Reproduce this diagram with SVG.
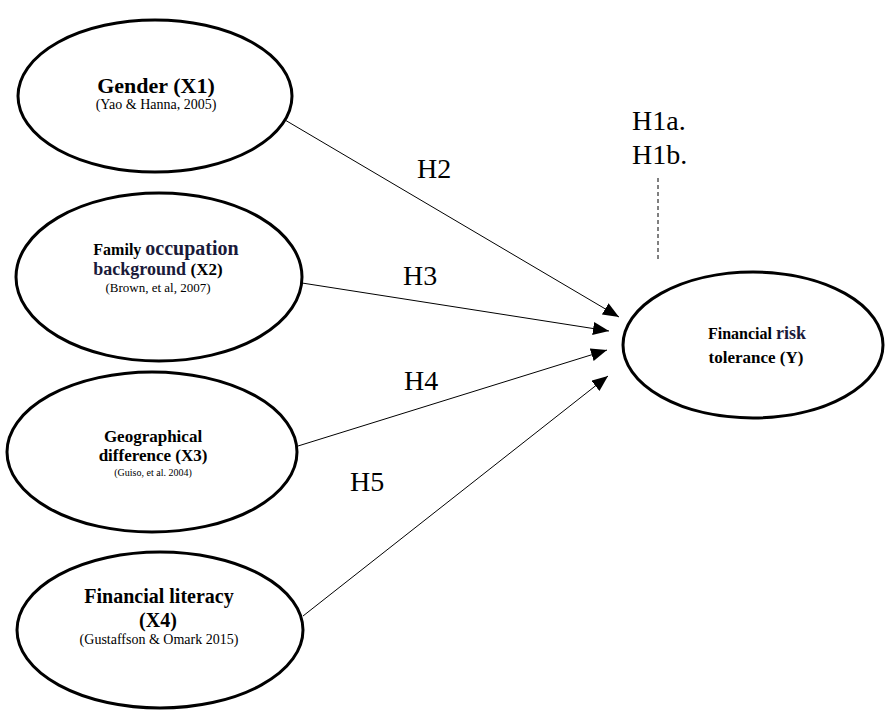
<svg xmlns="http://www.w3.org/2000/svg" width="885" height="711" viewBox="0 0 885 711" font-family="Liberation Serif, DejaVu Serif, serif">
<defs>
<marker id="arr" markerUnits="userSpaceOnUse" markerWidth="18" markerHeight="14" refX="16" refY="6.5" orient="auto">
<path d="M0,0 L16,6.5 L0,13 Z" fill="#000"/>
</marker>
<style>
.node ellipse{fill:#fff;stroke:#000;stroke-width:3}
.t{fill:#000;text-anchor:middle}
.b{font-weight:bold}
.lbl{font-size:28px;fill:#000}
.edge{stroke:#000;stroke-width:1;fill:none;marker-end:url(#arr)}
</style>
</defs>
<rect width="885" height="711" fill="#fff"/>
<g id="connectors">
<line class="edge" x1="285" y1="120" x2="619" y2="317"/>
<line class="edge" x1="302" y1="283" x2="609" y2="331"/>
<line class="edge" x1="298" y1="446" x2="607" y2="350"/>
<line class="edge" x1="303" y1="616" x2="608" y2="376"/>
<line x1="658" y1="178" x2="658" y2="261" stroke="#000" stroke-width="1" stroke-dasharray="4,3"/>
</g>
<g id="labels" font-family="Liberation Serif, serif">
<text class="lbl" x="417" y="178" font-family="Liberation Serif, serif">H2</text>
<text class="lbl" x="403" y="285" font-family="Liberation Serif, serif">H3</text>
<text class="lbl" x="404" y="390" font-family="Liberation Serif, serif">H4</text>
<text class="lbl" x="350" y="491" font-family="Liberation Serif, serif">H5</text>
<text class="lbl" x="632" y="130" font-family="Liberation Serif, serif">H1a.</text>
<text class="lbl" x="632" y="164" font-family="Liberation Serif, serif">H1b.</text>
</g>
<g id="x1" class="node" font-family="Liberation Serif, serif">
<ellipse cx="155" cy="96" rx="137" ry="76"/>
<text class="t b" x="156" y="93" font-size="22">Gender (X1)</text>
<text class="t" x="156" y="109" font-size="14">(Yao &amp; Hanna, 2005)</text>
</g>
<g id="x2" class="node" font-family="Liberation Serif, serif">
<ellipse cx="159" cy="277" rx="143" ry="84"/>
<text class="t b" x="166" y="255"><tspan font-size="16">Family </tspan><tspan font-size="20" fill="#1a1a3a">occupation</tspan></text>
<text class="t b" x="158" y="275"><tspan font-size="18" fill="#1a1a3a">background </tspan><tspan font-size="17">(X2)</tspan></text>
<text class="t" x="158" y="292" font-size="13">(Brown, et al, 2007)</text>
</g>
<g id="x3" class="node" font-family="Liberation Serif, serif">
<ellipse cx="152" cy="452" rx="145" ry="80"/>
<text class="t b" x="153" y="442" font-size="17">Geographical</text>
<text class="t b" x="153" y="461" font-size="17">difference (X3)</text>
<text class="t" x="153" y="476" font-size="10">(Guiso, et al. 2004)</text>
</g>
<g id="x4" class="node" font-family="Liberation Serif, serif">
<ellipse cx="160" cy="630" rx="143" ry="78"/>
<text class="t b" x="159" y="603" font-size="20">Financial literacy</text>
<text class="t b" x="158" y="627" font-size="20">(X4)</text>
<text class="t" x="159" y="644" font-size="14">(Gustaffson &amp; Omark 2015)</text>
</g>
<g id="y" class="node" font-family="Liberation Serif, serif">
<ellipse cx="753" cy="345" rx="130" ry="73"/>
<text class="t b" x="757" y="339"><tspan font-size="16">Financial </tspan><tspan font-size="18" fill="#1a1a3a">risk</tspan></text>
<text class="t b" x="756" y="363" font-size="17">tolerance (Y)</text>
</g>
</svg>
